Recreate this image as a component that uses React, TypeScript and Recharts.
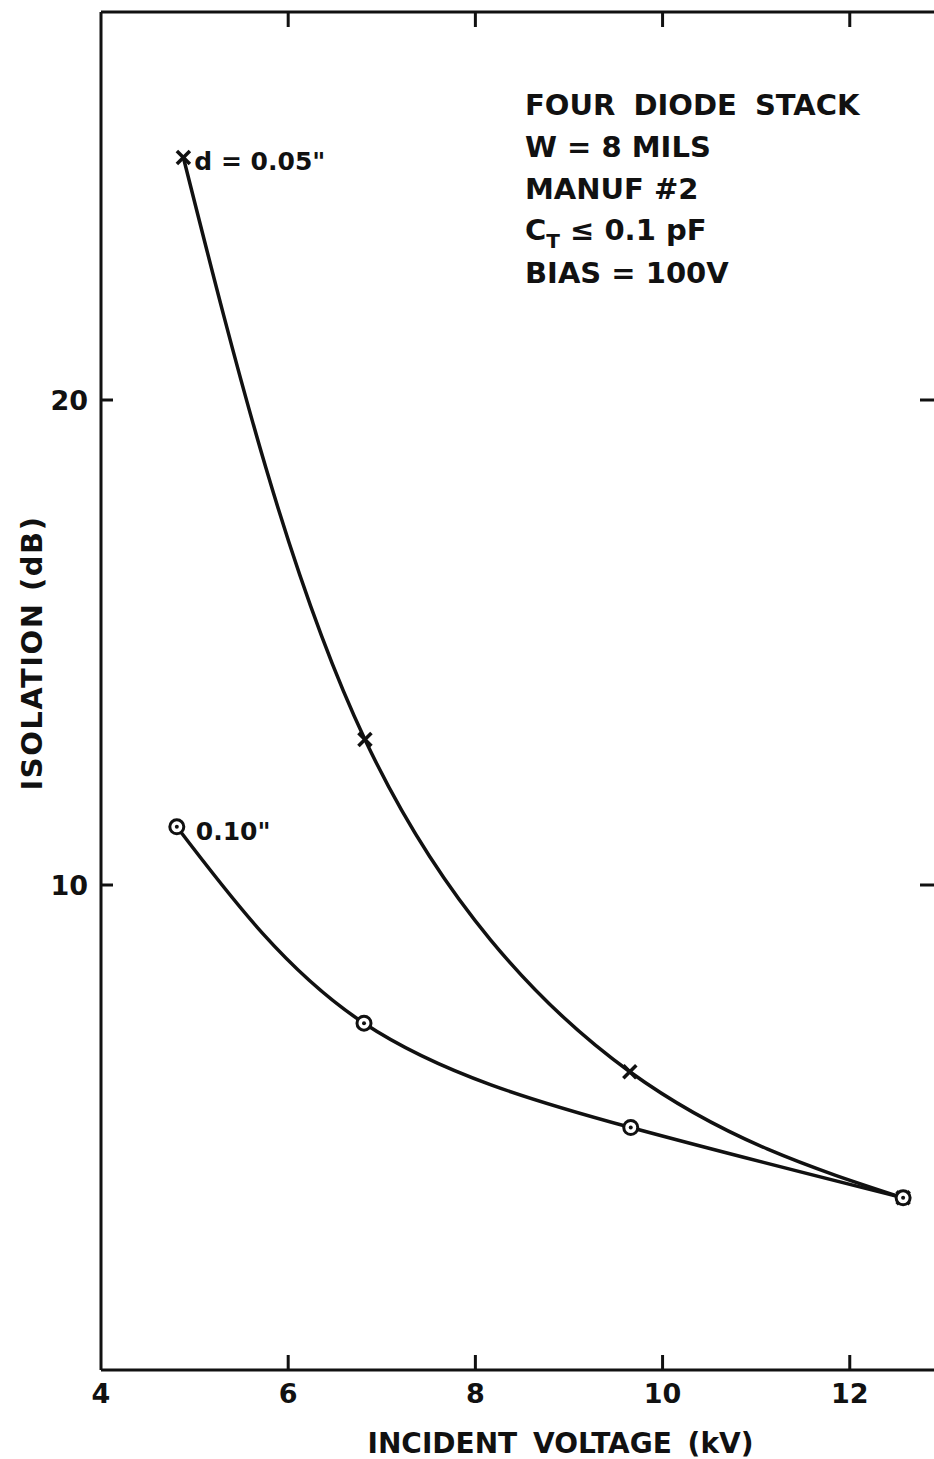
import React from 'react';
import { LineChart, Line, XAxis, YAxis, Label } from 'recharts';

// ---- data ----
const voltage005 = [4.88, 6.82, 9.65, 12.57];
const isolation005 = [25.0, 13.0, 6.15, 3.55];
const voltage010 = [4.81, 6.81, 9.66, 12.57];
const isolation010 = [11.2, 7.15, 5.0, 3.55];

const xTicks = [4, 6, 8, 10, 12];
const xInnerTicks = [6, 8, 10, 12];
const yTicks = [10, 20];
const xDomain = [4, 12.9];
const yDomain = [0, 28];

const infoLines = ['FOUR DIODE STACK', 'W = 8 MILS', 'MANUF #2', 'CT', 'BIAS = 100V'];

const series005 = voltage005.map((v, i) => ({ v, iso: isolation005[i] }));
const series010 = voltage010.map((v, i) => ({ v, iso: isolation010[i] }));

const FONT = "'DejaVu Sans', 'Liberation Sans', sans-serif";
const INK = '#111';

const tickStyle = { fill: INK, fontSize: 27, fontFamily: FONT, fontWeight: 700 };
const NoLabel = (props: any) => <g key={`nl-${props.index}`} />;
const tickLineStyle = { stroke: INK, strokeWidth: 3 };

const CrossDot = (props: any) => {
  const { cx, cy, index } = props;
  if (cx == null || cy == null) return <g key={`cx-${index}`} />;
  const s = 6.5;
  return (
    <g key={`cx-${index}`}>
      <line x1={cx - s} y1={cy - s} x2={cx + s} y2={cy + s} stroke={INK} strokeWidth={3.5} />
      <line x1={cx - s} y1={cy + s} x2={cx + s} y2={cy - s} stroke={INK} strokeWidth={3.5} />
    </g>
  );
};

const CircleDot = (props: any) => {
  const { cx, cy, index } = props;
  if (cx == null || cy == null) return <g key={`cc-${index}`} />;
  return (
    <g key={`cc-${index}`}>
      <circle cx={cx} cy={cy} r={7} fill="#fff" stroke={INK} strokeWidth={3} />
      <circle cx={cx} cy={cy} r={2} fill={INK} />
    </g>
  );
};

const firstPointLabel = (text: string, dx: number, dy: number) => (props: any) => {
  const { x, y, index } = props;
  if (index !== 0 || x == null || y == null) return <g key={`l-${index}`} />;
  return (
    <text
      key={`l-${index}`}
      x={x + dx}
      y={y + dy}
      fill={INK}
      fontSize={25}
      fontFamily={FONT}
      fontWeight={700}
    >
      {text}
    </text>
  );
};

const XTitle = (props: any) => {
  const vb = props.viewBox || { x: 101, y: 1370, width: 833, height: 89 };
  return (
    <text
      x={vb.x + vb.width / 2 + 43}
      y={vb.y + 83}
      textAnchor="middle"
      fill={INK}
      fontSize={28}
      fontFamily={FONT}
      fontWeight={700}
      wordSpacing={6}
    >
      INCIDENT VOLTAGE (kV)
    </text>
  );
};

const YTitle = (props: any) => {
  const vb = props.viewBox || { x: 0, y: 12, width: 101, height: 1358 };
  const cx = vb.x + 42;
  const cy = vb.y + vb.height / 2 - 38;
  return (
    <text
      x={cx}
      y={cy}
      transform={`rotate(-90, ${cx}, ${cy})`}
      textAnchor="middle"
      fill={INK}
      fontSize={29}
      fontFamily={FONT}
      fontWeight={700}
      letterSpacing={1.5}
    >
      ISOLATION (dB)
    </text>
  );
};

export default function App() {
  return (
    <div style={{ position: 'absolute', left: 0, top: 0, width: 934, height: 1459, background: '#fff' }}>
      <LineChart width={934} height={1459} margin={{ top: 12, right: 0, bottom: 0, left: 0 }}>
        {/* bottom axis: line + labels */}
        <XAxis
          xAxisId="bottom"
          dataKey="v"
          type="number"
          domain={xDomain}
          ticks={xTicks}
          allowDataOverflow
          height={89}
          stroke={INK}
          strokeWidth={3}
          tickLine={false}
          tickSize={0}
          tickMargin={14}
          tick={tickStyle}
        >
          <Label content={<XTitle />} />
        </XAxis>
        {/* bottom axis: inward tick marks */}
        <XAxis
          xAxisId="bottomTicks"
          dataKey="v"
          type="number"
          domain={xDomain}
          ticks={xInnerTicks}
          allowDataOverflow
          mirror
          height={1}
          axisLine={false}
          stroke={INK}
          tickLine={tickLineStyle}
          tickSize={15}
          tick={NoLabel}
        />
        {/* top frame with inward ticks */}
        <XAxis
          xAxisId="top"
          orientation="top"
          dataKey="v"
          type="number"
          domain={xDomain}
          ticks={xInnerTicks}
          allowDataOverflow
          mirror
          height={1}
          stroke={INK}
          strokeWidth={3}
          tickLine={tickLineStyle}
          tickSize={15}
          tick={NoLabel}
        />
        {/* left axis: line + labels */}
        <YAxis
          yAxisId="left"
          type="number"
          domain={yDomain}
          ticks={yTicks}
          allowDataOverflow
          width={101}
          stroke={INK}
          strokeWidth={3}
          tickLine={false}
          tickSize={0}
          tickMargin={13}
          tick={tickStyle}
        >
          <Label content={<YTitle />} />
        </YAxis>
        {/* left axis: inward tick marks */}
        <YAxis
          yAxisId="leftTicks"
          type="number"
          domain={yDomain}
          ticks={yTicks}
          allowDataOverflow
          mirror
          width={1}
          axisLine={false}
          stroke={INK}
          tickLine={tickLineStyle}
          tickSize={12}
          tick={NoLabel}
        />
        {/* right side: inward tick marks only */}
        <YAxis
          yAxisId="right"
          orientation="right"
          type="number"
          domain={yDomain}
          ticks={yTicks}
          allowDataOverflow
          mirror
          width={1}
          axisLine={false}
          stroke={INK}
          tickLine={tickLineStyle}
          tickSize={14}
          tick={NoLabel}
        />
        <Line
          xAxisId="bottom"
          yAxisId="left"
          data={series005}
          dataKey="iso"
          type="natural"
          stroke={INK}
          strokeWidth={3.5}
          dot={CrossDot}
          activeDot={false}
          label={firstPointLabel('d = 0.05"', 11, 12)}
          isAnimationActive={false}
        />
        <Line
          xAxisId="bottom"
          yAxisId="left"
          data={series010}
          dataKey="iso"
          type="natural"
          stroke={INK}
          strokeWidth={3.5}
          dot={CircleDot}
          activeDot={false}
          label={firstPointLabel('0.10"', 19, 13)}
          isAnimationActive={false}
        />
      </LineChart>
      <svg
        width={934}
        height={1459}
        style={{ position: 'absolute', left: 0, top: 0, pointerEvents: 'none' }}
      >
        <g fill={INK} fontFamily={FONT} fontWeight={700} fontSize={29}>
          <text x={525} y={115} wordSpacing={8}>{infoLines[0]}</text>
          <text x={525} y={157}>{infoLines[1]}</text>
          <text x={525} y={199}>{infoLines[2]}</text>
          <text x={525} y={240}>
            <tspan>{infoLines[3][0]}</tspan>
            <tspan dy={8} fontSize={20}>{infoLines[3][1]}</tspan>
            <tspan dy={-8}> ≤ 0.1 pF</tspan>
          </text>
          <text x={525} y={283}>{infoLines[4]}</text>
        </g>
      </svg>
    </div>
  );
}
